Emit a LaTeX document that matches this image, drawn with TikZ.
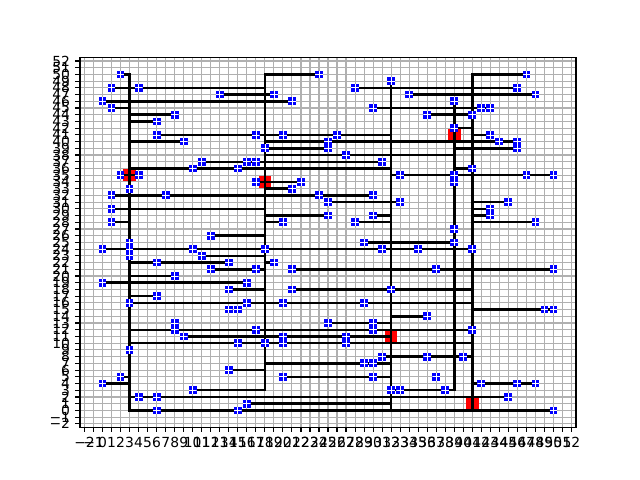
\documentclass[tikz,border=0pt]{standalone}
\usepackage{fontspec}
\setmainfont{DejaVu Sans}
\definecolor{gridgray}{HTML}{B0B0B0}
\definecolor{mblue}{HTML}{0000FF}
\definecolor{mred}{HTML}{FF0000}
\begin{document}
\begin{tikzpicture}[x=6.4931pt,y=4.8384pt,
  seg/.style={black,line width=1.8pt,line cap=rect},
  bmark/.style={rectangle,fill=mblue,minimum size=5.6pt,inner sep=0pt,
     path picture={\draw[white,line width=0.5pt] (path picture bounding box.north) -- (path picture bounding box.south) (path picture bounding box.west) -- (path picture bounding box.east);}},
  rmark/.style={rectangle,fill=mred,minimum size=9pt,inner sep=0pt},
  tlab/.style={font=\fontsize{10}{12}\selectfont,inner sep=0pt},
  gline/.style={gridgray,line width=0.8pt}]
\useasboundingbox (-11.371,-10.357) rectangle (59.597,61.071);
% grid
\foreach \i in {-2,...,52} {
  \draw[gline] (\i,-2.5) -- (\i,52.5);
  \draw[gline] (-2.5,\i) -- (52.5,\i);
}
% ticks and labels
\foreach \i in {-2,...,52} {
  \draw[line width=0.8pt] (\i,-2.5) -- ++(0pt,-3.5pt);
  \draw[line width=0.8pt] (-2.5,\i) -- ++(-3.5pt,0pt);
  \path (\i,-2.5) ++(0pt,-7pt) node[anchor=north,tlab] (xl\i) {\ifnum\i<0 −\the\numexpr-\i\relax\else\i\fi};
  \path (-2.5,\i) ++(-7pt,0pt) node[anchor=east,tlab] (yl\i) {\ifnum\i<0 −\the\numexpr-\i\relax\else\i\fi};
}
% red markers
\foreach \x/\y in {3/35,18/34,39/41,32/11,41/1}
  \node[rmark] (r-\x-\y) at (\x,\y) {};
% tree segments
\foreach \a/\b/\c/\d in {
  3/50/3/0, 18/50/18/3, 32/49/32/0, 39/46/39/3, 41/50/41/0,
  2/50/3/50, 18/50/24/50, 41/50/47/50,
  1/48/18/48, 28/48/46/48, 13/47/19/47, 34/47/48/47, 0/46/21/46,
  1/45/3/45, 30/45/43/45, 3/44/8/44, 36/44/41/44, 3/43/6/43,
  39/42/41/42, 6/41/32/41, 41/41/43/41, 3/40/9/40, 18/40/46/40,
  18/39/25/39, 39/39/46/39, 18/38/39/38, 11/37/31/37, 3/36/32/36,
  39/36/41/36, 2/35/4/35, 32/35/50/35, 17/34/22/34,
  18/33/21/33, 1/32/30/32, 25/31/33/31, 41/31/45/31, 1/30/18/30,
  41/30/43/30, 18/29/25/29, 30/29/32/29, 41/29/43/29, 1/28/3/28, 18/28/20/28,
  28/28/32/28, 41/28/48/28, 12/26/18/26, 29/25/39/25, 0/24/41/24,
  11/23/18/23, 3/22/14/22, 18/22/19/22, 12/21/18/21, 21/21/50/21,
  3/20/8/20, 0/19/16/19, 14/18/18/18, 21/18/41/18, 3/17/6/17,
  3/16/41/16,
  41/15/50/15, 32/14/36/14, 25/13/32/13, 3/12/41/12, 9/11/32/11,
  3/10/41/10, 31/8/41/8, 18/7/32/7, 14/6/18/6, 2/5/3/5, 20/5/32/5,
  0/4/3/4, 41/4/48/4, 10/3/18/3, 32/3/39/3, 3/2/45/2, 16/1/32/1,
  3/0/50/0}
  \draw[seg] (\a,\b) -- (\c,\d);
% blue markers
\foreach \x/\y in {
  2/50,24/50,47/50,32/49,1/48,4/48,28/48,46/48,13/47,19/47,34/47,48/47,
  0/46,21/46,39/46,1/45,30/45,42/45,43/45,8/44,36/44,41/44,6/43,39/42,
  6/41,17/41,20/41,26/41,43/41,9/40,25/40,44/40,46/40,18/39,25/39,46/39,
  27/38,11/37,16/37,17/37,31/37,10/36,15/36,41/36,2/35,4/35,33/35,39/35,
  47/35,50/35,17/34,22/34,39/34,
  3/33,21/33,1/32,7/32,24/32,30/32,25/31,33/31,45/31,1/30,43/30,25/29,
  30/29,43/29,1/28,20/28,28/28,48/28,39/27,12/26,3/25,29/25,39/25,0/24,
  3/24,10/24,18/24,31/24,35/24,41/24,3/23,11/23,6/22,14/22,19/22,12/21,
  17/21,21/21,37/21,50/21,8/20,0/19,16/19,14/18,21/18,32/18,6/17,3/16,
  16/16,20/16,29/16,
  14/15,15/15,49/15,50/15,36/14,8/13,25/13,30/13,8/12,17/12,30/12,41/12,
  9/11,20/11,27/11,15/10,18/10,20/10,27/10,3/9,31/8,36/8,40/8,29/7,30/7,
  14/6,2/5,20/5,30/5,37/5,0/4,42/4,46/4,48/4,10/3,32/3,33/3,38/3,4/2,6/2,
  45/2,16/1,6/0,15/0,50/0}
  \node[bmark] (b-\x-\y) at (\x,\y) {};
% spines
\draw[line width=0.8pt] (-2.5,-2.5) rectangle (52.5,52.5);
\end{tikzpicture}
\end{document}
